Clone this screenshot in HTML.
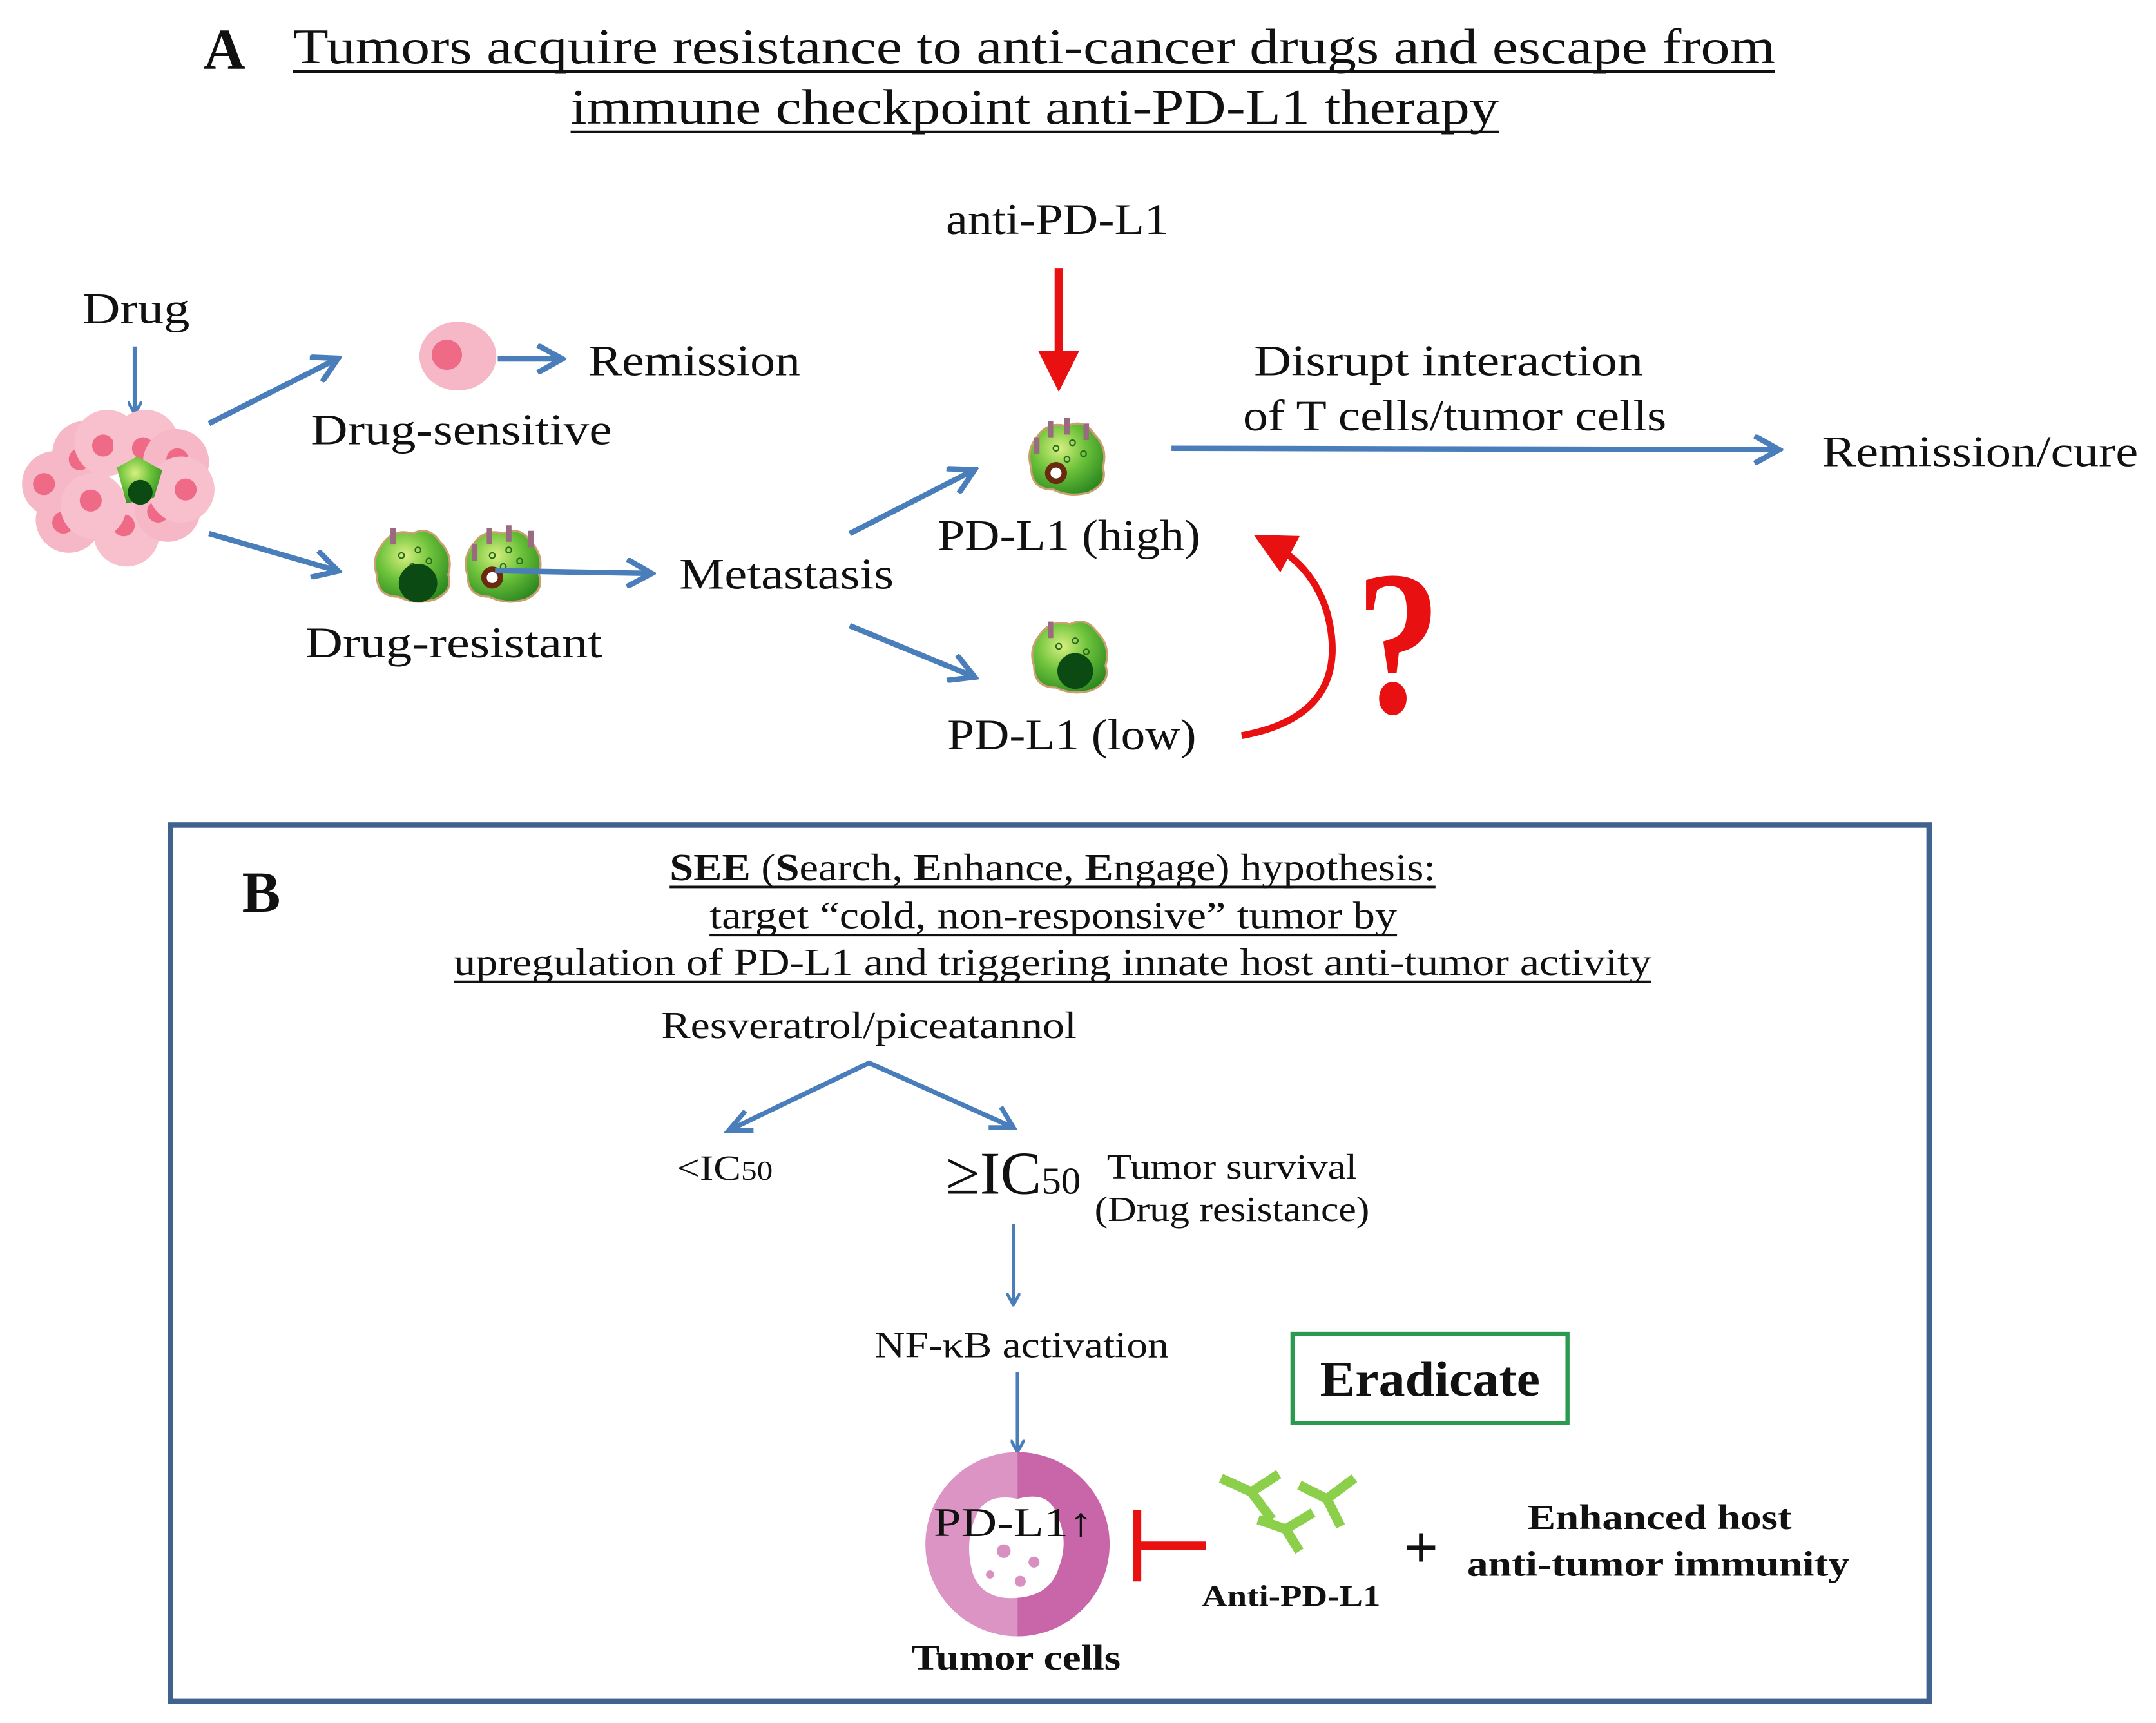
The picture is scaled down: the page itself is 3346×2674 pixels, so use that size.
<!DOCTYPE html>
<html><head><meta charset="utf-8"><style>
html,body{margin:0;padding:0;background:#fff;}
svg{display:block;}
text{font-family:"Liberation Serif",serif;fill:#111;}
</style></head><body>
<svg width="3346" height="2674" viewBox="0 0 1568 1253" preserveAspectRatio="none" xmlns="http://www.w3.org/2000/svg">
<defs>
<marker id="ab" markerWidth="10" markerHeight="10" refX="8" refY="5" orient="auto" markerUnits="userSpaceOnUse" viewBox="0 0 10 10"><path d="M0,0 L9,5 L0,10" fill="none" stroke="#4a7ebb" stroke-width="2.2"/></marker>
<marker id="abL" markerWidth="22" markerHeight="22" refX="18" refY="11" orient="auto" markerUnits="userSpaceOnUse" viewBox="0 0 22 22"><path d="M1,1 L19,11 L1,21" fill="none" stroke="#4a7ebb" stroke-width="4"/></marker>
<marker id="ar" markerWidth="30" markerHeight="30" refX="15" refY="15" orient="auto" markerUnits="userSpaceOnUse" viewBox="0 0 30 30"><path d="M0,0 L30,15 L0,30 Z" fill="#e81010"/></marker>
<radialGradient id="gc" cx="0.4" cy="0.35" r="0.7"><stop offset="0" stop-color="#d8f080"/><stop offset="0.5" stop-color="#6cc23a"/><stop offset="1" stop-color="#2f8a22"/></radialGradient>
<g id="cellA">
<path d="M-22,-14 Q-14,-26 0,-22 Q12,-28 20,-16 Q30,-6 26,8 Q30,20 16,26 Q2,30 -10,24 Q-26,24 -26,8 Q-30,-4 -22,-14Z" fill="url(#gc)" stroke="#c9a070" stroke-width="1.5"/>
<circle cx="-8" cy="-6" r="2" fill="none" stroke="#2a6a20"/><circle cx="4" cy="-10" r="2" fill="none" stroke="#2a6a20"/><circle cx="12" cy="-2" r="2" fill="none" stroke="#2a6a20"/><circle cx="0" cy="2" r="2" fill="none" stroke="#2a6a20"/>
</g>
</defs>

<!-- Panel A -->
<text x="148" y="50" font-size="42" font-weight="bold">A</text>
<text x="213" y="46" font-size="36" textLength="1078" lengthAdjust="spacingAndGlyphs">Tumors acquire resistance to anti-cancer drugs and escape from</text>
<line x1="213" y1="52" x2="1291" y2="52" stroke="#111" stroke-width="2"/>
<text x="415" y="90" font-size="36" textLength="675" lengthAdjust="spacingAndGlyphs">immune checkpoint anti-PD-L1 therapy</text>
<line x1="415" y1="96" x2="1090" y2="96" stroke="#111" stroke-width="2"/>

<text x="688" y="170" font-size="32" textLength="162" lengthAdjust="spacingAndGlyphs">anti-PD-L1</text>
<line x1="770" y1="195" x2="770" y2="270" stroke="#e81010" stroke-width="6" marker-end="url(#ar)"/>

<text x="60" y="235" font-size="32" textLength="78" lengthAdjust="spacingAndGlyphs">Drug</text>
<line x1="98" y1="252" x2="98" y2="300" stroke="#4a7ebb" stroke-width="3" marker-end="url(#ab)"/>

<!-- cluster -->
<g>
<circle cx="40" cy="352" r="24" fill="#f6b8c6"/><circle cx="32" cy="352" r="8" fill="#ee6a86"/>
<circle cx="62" cy="330" r="24" fill="#f6b8c6"/><circle cx="58" cy="334" r="8" fill="#ee6a86"/>
<circle cx="78" cy="322" r="24" fill="#f8c0cc"/><circle cx="75" cy="324" r="8" fill="#ee6a86"/>
<circle cx="106" cy="322" r="24" fill="#f8c0cc"/><circle cx="104" cy="326" r="8" fill="#ee6a86"/>
<circle cx="128" cy="336" r="24" fill="#f6b8c6"/><circle cx="129" cy="334" r="8" fill="#ee6a86"/>
<circle cx="50" cy="378" r="24" fill="#f6b8c6"/><circle cx="46" cy="380" r="8" fill="#ee6a86"/>
<circle cx="92" cy="388" r="24" fill="#f8c0cc"/><circle cx="90" cy="382" r="8" fill="#ee6a86"/>
<circle cx="122" cy="370" r="24" fill="#f6b8c6"/><circle cx="115" cy="372" r="8" fill="#ee6a86"/>
<circle cx="132" cy="356" r="24" fill="#f8c0cc"/><circle cx="135" cy="356" r="8" fill="#ee6a86"/>
<circle cx="68" cy="368" r="24" fill="#f8c0cc"/><circle cx="66" cy="364" r="8" fill="#ee6a86"/>
<path d="M85,340 L100,332 L118,342 L112,362 L92,366 Z" fill="url(#gc)"/>
<circle cx="102" cy="358" r="9" fill="#0b4a12"/>
</g>

<line x1="152" y1="308" x2="245" y2="261" stroke="#4a7ebb" stroke-width="4" marker-end="url(#abL)"/>
<ellipse cx="333" cy="259" rx="28" ry="25" fill="#f6b8c6"/><circle cx="325" cy="258" r="11" fill="#ee6a86"/>
<line x1="362" y1="261" x2="408" y2="261" stroke="#4a7ebb" stroke-width="4" marker-end="url(#abL)"/>
<text x="428" y="273" font-size="32" textLength="154" lengthAdjust="spacingAndGlyphs">Remission</text>
<text x="226" y="323" font-size="32" textLength="219" lengthAdjust="spacingAndGlyphs">Drug-sensitive</text>

<line x1="152" y1="388" x2="245" y2="415" stroke="#4a7ebb" stroke-width="4" marker-end="url(#abL)"/>
<use href="#cellA" x="300" y="410"/><circle cx="304" cy="424" r="14" fill="#0b4a12"/>
<rect x="284" y="384" width="4" height="12" fill="#9a6a80"/>
<use href="#cellA" x="366" y="410"/><circle cx="358" cy="420" r="8" fill="#6a2a10"/><circle cx="358" cy="420" r="4" fill="#fff"/>
<rect x="354" y="384" width="4" height="12" fill="#9a6a80"/><rect x="368" y="382" width="4" height="12" fill="#9a6a80"/><rect x="384" y="386" width="4" height="12" fill="#9a6a80"/><rect x="343" y="396" width="4" height="12" fill="#9a6a80"/>
<line x1="360" y1="415" x2="473" y2="417" stroke="#4a7ebb" stroke-width="4" marker-end="url(#abL)"/>
<text x="494" y="428" font-size="32" textLength="156" lengthAdjust="spacingAndGlyphs">Metastasis</text>
<text x="222" y="478" font-size="32" textLength="216" lengthAdjust="spacingAndGlyphs">Drug-resistant</text>

<line x1="618" y1="388" x2="708" y2="342" stroke="#4a7ebb" stroke-width="4" marker-end="url(#abL)"/>
<use href="#cellA" x="776" y="332"/><circle cx="768" cy="344" r="8" fill="#6a2a10"/><circle cx="768" cy="344" r="4" fill="#fff"/>
<rect x="762" y="306" width="4" height="12" fill="#9a6a80"/><rect x="774" y="304" width="4" height="12" fill="#9a6a80"/><rect x="788" y="308" width="4" height="12" fill="#9a6a80"/><rect x="752" y="318" width="4" height="12" fill="#9a6a80"/>
<text x="682" y="400" font-size="32" textLength="191" lengthAdjust="spacingAndGlyphs">PD-L1 (high)</text>

<line x1="618" y1="455" x2="708" y2="492" stroke="#4a7ebb" stroke-width="4" marker-end="url(#abL)"/>
<use href="#cellA" x="778" y="476"/><circle cx="782" cy="488" r="13" fill="#0b4a12"/>
<rect x="762" y="452" width="4" height="12" fill="#9a6a80"/>
<text x="689" y="545" font-size="32" textLength="181" lengthAdjust="spacingAndGlyphs">PD-L1 (low)</text>

<text x="912" y="273" font-size="32" textLength="283" lengthAdjust="spacingAndGlyphs">Disrupt interaction</text>
<text x="904" y="313" font-size="32" textLength="308" lengthAdjust="spacingAndGlyphs">of T cells/tumor cells</text>
<line x1="852" y1="326" x2="1293" y2="327" stroke="#4a7ebb" stroke-width="4" marker-end="url(#abL)"/>
<text x="1325" y="339" font-size="32" textLength="230" lengthAdjust="spacingAndGlyphs">Remission/cure</text>

<path d="M903,535 Q985,520 965,445 Q955,412 925,396" fill="none" stroke="#e81010" stroke-width="5" marker-end="url(#ar)"/>
<text x="986" y="518" font-size="150" font-weight="bold" style="fill:#e81010" textLength="62" lengthAdjust="spacingAndGlyphs">?</text>

<!-- Panel B -->
<rect x="124" y="600" width="1279" height="637" fill="none" stroke="#3f628f" stroke-width="4"/>
<text x="176" y="663" font-size="42" font-weight="bold">B</text>
<text x="487" y="640" font-size="28" textLength="557" lengthAdjust="spacingAndGlyphs"><tspan font-weight="bold">SEE</tspan> (<tspan font-weight="bold">S</tspan>earch, <tspan font-weight="bold">E</tspan>nhance, <tspan font-weight="bold">E</tspan>ngage) hypothesis:</text>
<line x1="487" y1="645" x2="1044" y2="645" stroke="#111" stroke-width="1.8"/>
<text x="516" y="675" font-size="28" textLength="500" lengthAdjust="spacingAndGlyphs">target “cold, non-responsive” tumor by</text>
<line x1="516" y1="680" x2="1016" y2="680" stroke="#111" stroke-width="1.8"/>
<text x="330" y="709" font-size="28" textLength="871" lengthAdjust="spacingAndGlyphs">upregulation of PD-L1 and triggering innate host anti-tumor activity</text>
<line x1="330" y1="714" x2="1201" y2="714" stroke="#111" stroke-width="1.8"/>

<text x="481" y="755" font-size="28" textLength="302" lengthAdjust="spacingAndGlyphs">Resveratrol/piceatannol</text>
<polyline points="530,822 632,773 737,820" fill="none" stroke="#4a7ebb" stroke-width="3.5"/>
<path d="M542,808 L530,822 L548,822" fill="none" stroke="#4a7ebb" stroke-width="3.5"/>
<path d="M719,820 L737,820 L728,805" fill="none" stroke="#4a7ebb" stroke-width="3.5"/>
<text x="492" y="858" font-size="26" textLength="70" lengthAdjust="spacingAndGlyphs">&lt;IC<tspan font-size="20">50</tspan></text>
<text x="688" y="868" font-size="44" textLength="98" lengthAdjust="spacingAndGlyphs">≥IC<tspan font-size="28">50</tspan></text>
<text x="805" y="857" font-size="26" textLength="182" lengthAdjust="spacingAndGlyphs">Tumor survival</text>
<text x="796" y="888" font-size="26" textLength="200" lengthAdjust="spacingAndGlyphs">(Drug resistance)</text>
<line x1="737" y1="890" x2="737" y2="948" stroke="#4a7ebb" stroke-width="2.5" marker-end="url(#ab)"/>
<text x="636" y="987" font-size="27" textLength="214" lengthAdjust="spacingAndGlyphs">NF-κB activation</text>
<rect x="940" y="970" width="200" height="65" fill="none" stroke="#2a9a50" stroke-width="3"/>
<text x="960" y="1015" font-size="36" font-weight="bold" textLength="160" lengthAdjust="spacingAndGlyphs">Eradicate</text>
<line x1="740" y1="998" x2="740" y2="1055" stroke="#4a7ebb" stroke-width="2.5" marker-end="url(#ab)"/>

<path d="M740,1056 A67,67 0 0 0 740,1190 Z" fill="#dc94c4"/>
<path d="M740,1056 A67,67 0 0 1 740,1190 Z" fill="#c966aa"/>
<path d="M712,1098 Q720,1086 740,1090 Q762,1084 768,1100 Q778,1120 770,1140 Q764,1160 740,1162 Q716,1164 708,1146 Q700,1120 712,1098Z" fill="#fff"/>
<circle cx="730" cy="1128" r="5" fill="#d890c0"/><circle cx="752" cy="1136" r="4" fill="#d890c0"/><circle cx="742" cy="1150" r="4" fill="#d890c0"/><circle cx="720" cy="1145" r="3" fill="#d890c0"/>
<text x="679" y="1117" font-size="30" textLength="116" lengthAdjust="spacingAndGlyphs">PD-L1↑</text>
<line x1="827" y1="1098" x2="827" y2="1150" stroke="#e81010" stroke-width="6"/>
<line x1="827" y1="1124" x2="877" y2="1124" stroke="#e81010" stroke-width="6"/>
<g stroke="#8ccf4a" stroke-width="7" fill="none" stroke-linecap="butt">
<path d="M888,1075 L910,1085 L930,1072 M910,1085 L925,1105"/>
<path d="M945,1080 L965,1090 L985,1075 M965,1090 L975,1110"/>
<path d="M915,1105 L935,1112 L955,1100 M935,1112 L945,1128"/>
</g>
<text x="874" y="1168" font-size="22" font-weight="bold" textLength="130" lengthAdjust="spacingAndGlyphs">Anti-PD-L1</text>
<text x="1021" y="1140" font-size="44" font-weight="bold">+</text>
<text x="1111" y="1112" font-size="26" font-weight="bold" textLength="192" lengthAdjust="spacingAndGlyphs">Enhanced host</text>
<text x="1067" y="1146" font-size="26" font-weight="bold" textLength="278" lengthAdjust="spacingAndGlyphs">anti-tumor immunity</text>
<text x="663" y="1214" font-size="26" font-weight="bold" textLength="152" lengthAdjust="spacingAndGlyphs">Tumor cells</text>
</svg>
</body></html>
